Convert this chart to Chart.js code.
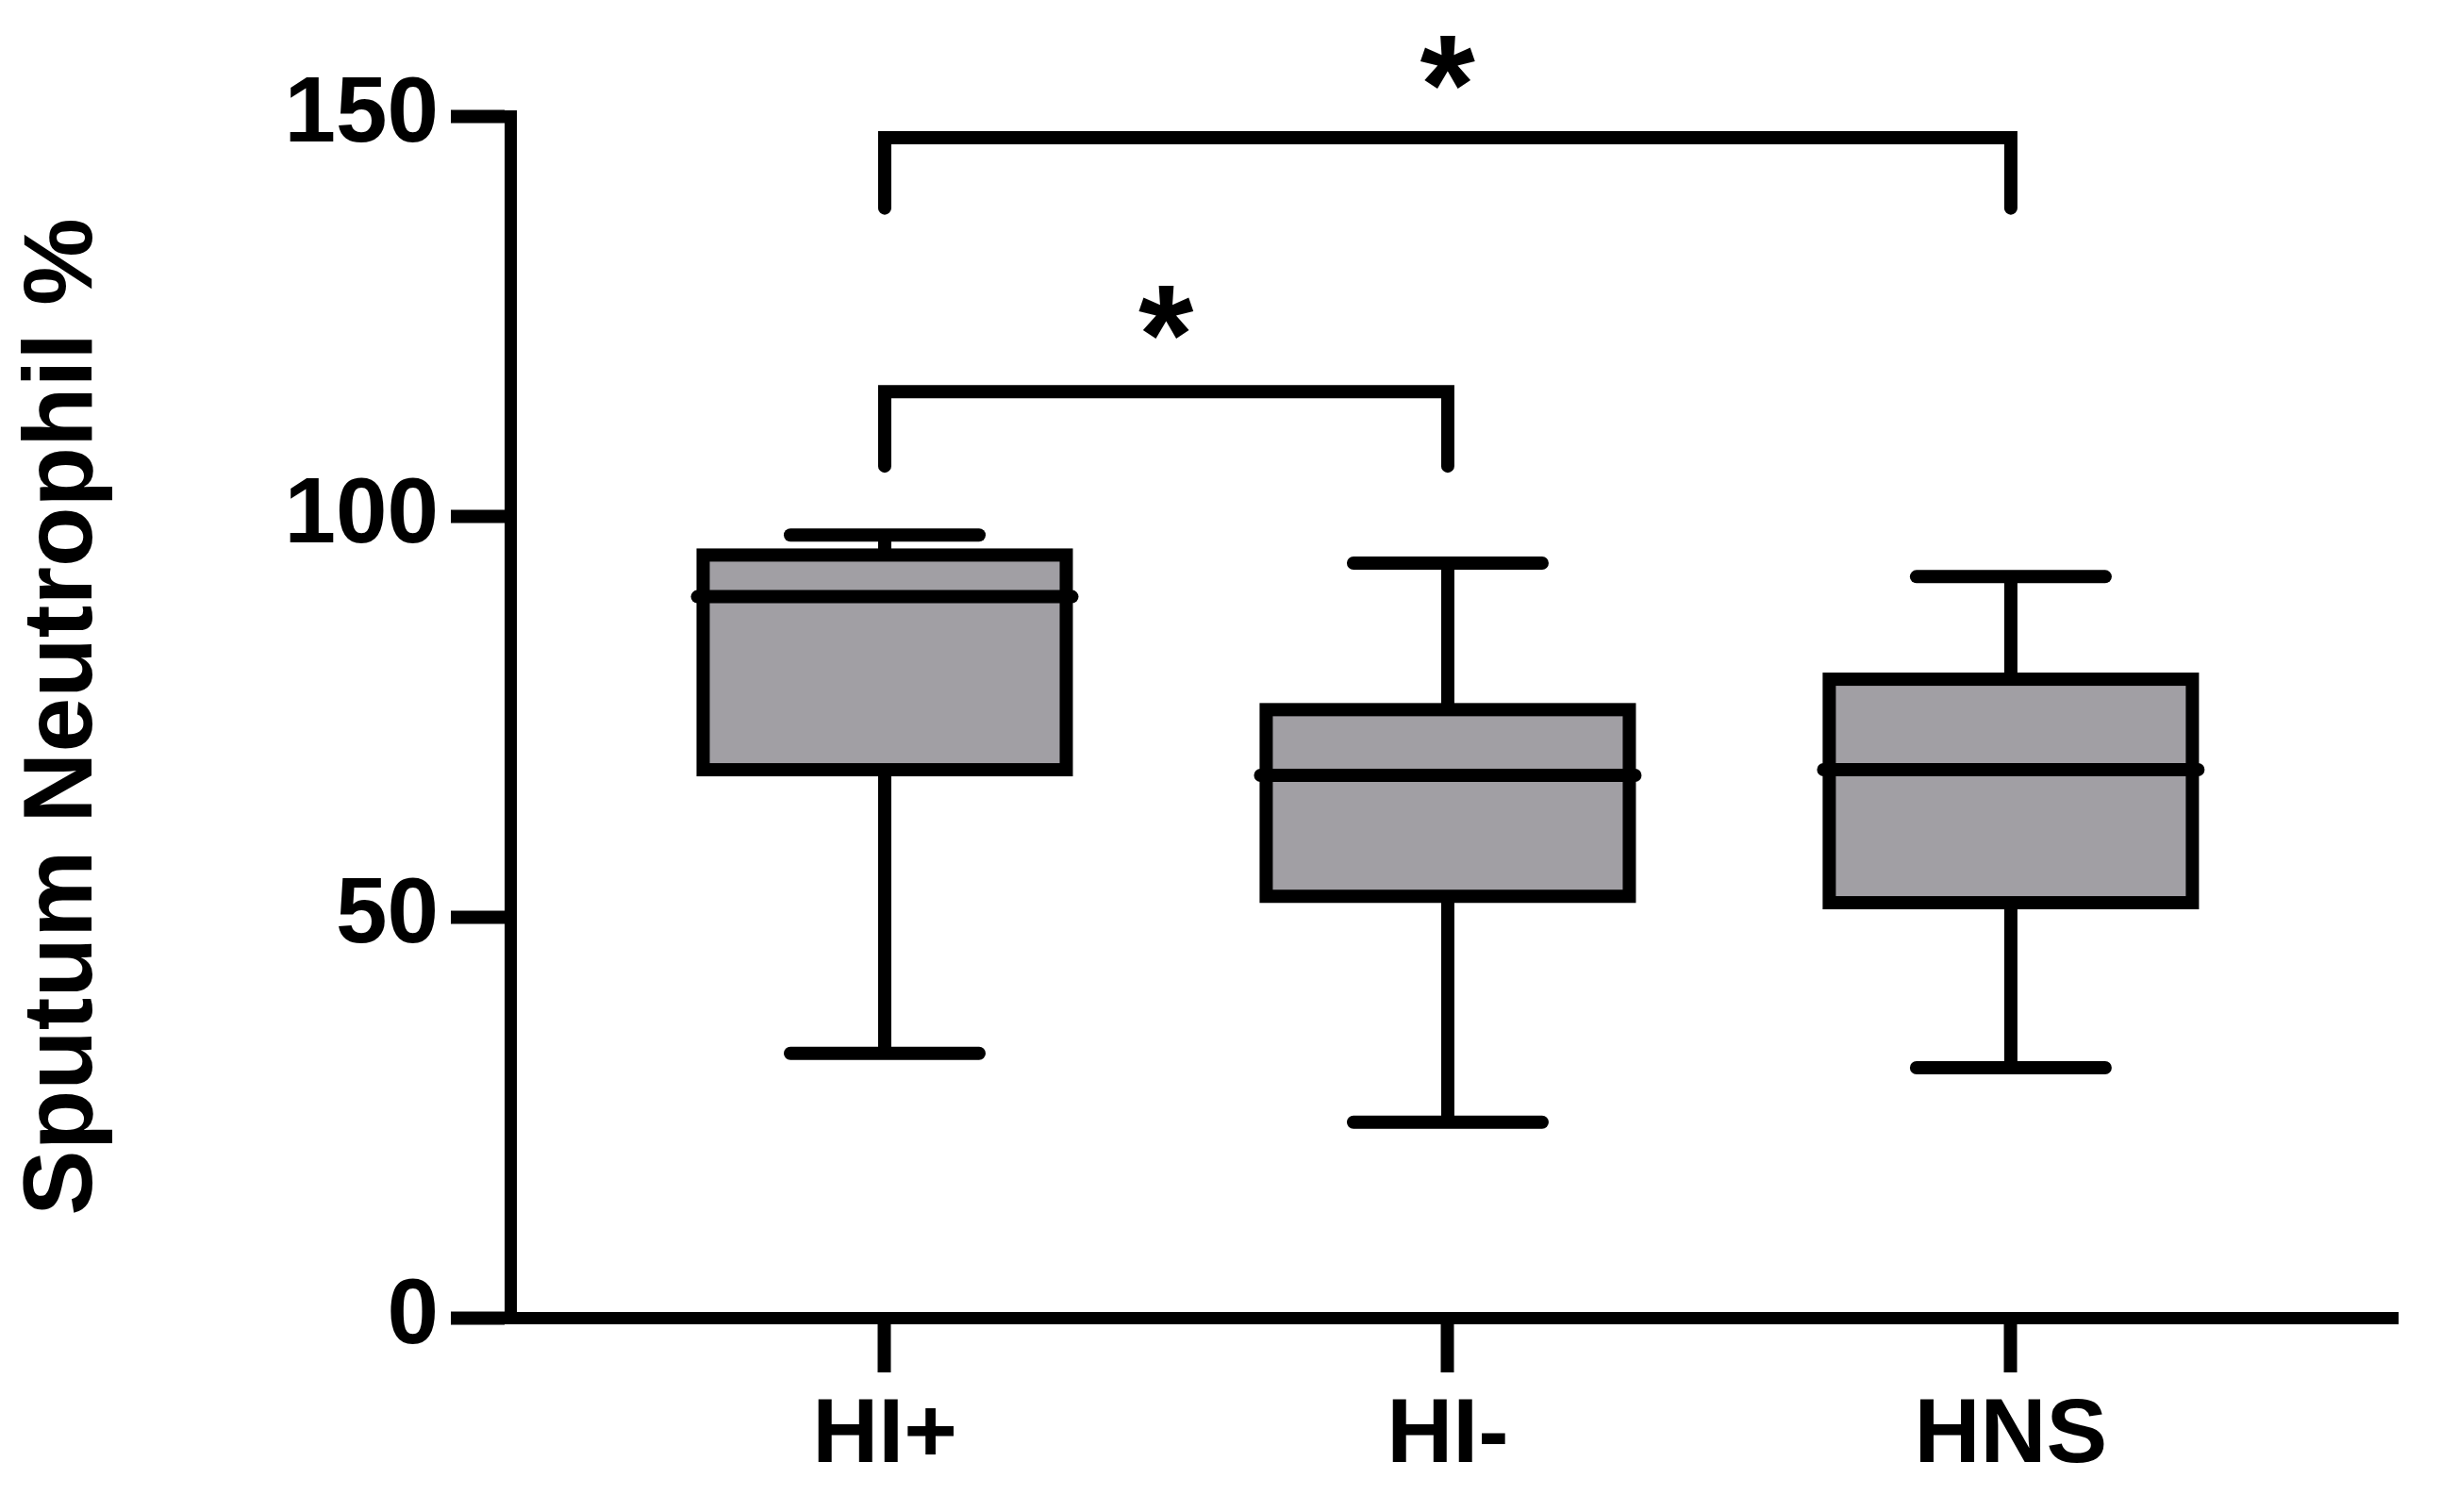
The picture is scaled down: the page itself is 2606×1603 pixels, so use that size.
<!DOCTYPE html>
<html>
<head>
<meta charset="utf-8">
<script src="https://cdn.jsdelivr.net/npm/chart.js@4.4.0/dist/chart.umd.min.js"></script>
<style>
  html, body { margin: 0; padding: 0; background: #fff; }
</style>
</head>
<body>
<canvas id="chart" width="2606" height="1603"></canvas>
<script>
// box plot values
var categories = ['HI+', 'HI-', 'HNS'];
var whiskerLow = [33.0, 24.4, 31.2];
var q1 = [68.4, 52.6, 51.8];
var median = [90.0, 67.7, 68.4];
var q3 = [95.2, 75.9, 79.7];
var whiskerHigh = [97.7, 94.2, 92.5];
var yTicks = [0, 50, 100, 150];

// significance brackets (group index from / to, bar height, leg end, star height)
var sigFrom = [0, 0];
var sigTo = [2, 1];
var sigTop = [147.3, 115.6];
var sigLeg = [138.5, 106.3];
var sigStar = [156.7, 125.4];
var sigLabel = ['*', '*'];

var FONT = '"Liberation Sans", Arial, Helvetica, sans-serif';
Chart.defaults.font.family = FONT;
Chart.defaults.color = '#000';

function line(ctx, x1, y1, x2, y2) {
  ctx.beginPath();
  ctx.moveTo(x1, y1);
  ctx.lineTo(x2, y2);
  ctx.stroke();
}

var boxPlugin = {
  id: 'boxes',
  afterDatasetsDraw: function(chart) {
    var ctx = chart.ctx;
    var xs = chart.scales.x;
    var ys = chart.scales.y;
    var bars = chart.getDatasetMeta(0).data;
    ctx.save();
    ctx.strokeStyle = '#000';
    ctx.fillStyle = '#000';
    ctx.lineWidth = 14;
    for (var i = 0; i < categories.length; i++) {
      var el = bars[i];
      var cx = el.x;
      var half = el.width / 2;
      var yTop = ys.getPixelForValue(q3[i]);
      var yBot = ys.getPixelForValue(q1[i]);
      var yHi = ys.getPixelForValue(whiskerHigh[i]);
      var yLo = ys.getPixelForValue(whiskerLow[i]);
      var yMed = ys.getPixelForValue(median[i]);

      // whisker stems
      ctx.lineCap = 'butt';
      line(ctx, cx, yTop, cx, yHi);
      line(ctx, cx, yBot, cx, yLo);
      // whisker caps
      ctx.lineCap = 'round';
      line(ctx, cx - 100, yHi, cx + 100, yHi);
      line(ctx, cx - 100, yLo, cx + 100, yLo);
      // box outline
      ctx.lineJoin = 'miter';
      ctx.strokeRect(cx - half, yTop, half * 2, yBot - yTop);
      // median
      ctx.lineCap = 'round';
      line(ctx, cx - half - 6, yMed, cx + half + 6, yMed);
    }

    // significance brackets
    ctx.lineCap = 'round';
    ctx.lineJoin = 'miter';
    ctx.font = 'bold 150px ' + FONT;
    ctx.textAlign = 'left';
    ctx.textBaseline = 'alphabetic';
    for (var j = 0; j < sigFrom.length; j++) {
      var x1 = xs.getPixelForValue(sigFrom[j] + 1);
      var x2 = xs.getPixelForValue(sigTo[j] + 1);
      var yt = ys.getPixelForValue(sigTop[j]);
      var yl = ys.getPixelForValue(sigLeg[j]);
      ctx.beginPath();
      ctx.moveTo(x1, yl);
      ctx.lineTo(x1, yt);
      ctx.lineTo(x2, yt);
      ctx.lineTo(x2, yl);
      ctx.stroke();

      var m = ctx.measureText(sigLabel[j]);
      var sx = (x1 + x2) / 2 - (m.actualBoundingBoxRight - m.actualBoundingBoxLeft) / 2;
      var sy = ys.getPixelForValue(sigStar[j]) + (m.actualBoundingBoxAscent - m.actualBoundingBoxDescent) / 2;
      ctx.fillText(sigLabel[j], sx, sy);
    }
    ctx.restore();
  }
};

var ctx = document.getElementById('chart').getContext('2d');
var myChart = new Chart(ctx, {
  type: 'bar',
  data: {
    datasets: [{
      label: 'IQR',
      data: categories.map(function(c, i) {
        return { x: i + 1, y: [q1[i], q3[i]] };
      }),
      backgroundColor: '#a19fa4',
      borderWidth: 0,
      barThickness: 385,
      inflateAmount: 0
    }]
  },
  options: {
    responsive: false,
    animation: false,
    devicePixelRatio: 1,
    layout: {
      padding: { top: 123, right: 64, bottom: 0, left: 0 }
    },
    plugins: {
      legend: { display: false },
      tooltip: { enabled: false }
    },
    scales: {
      x: {
        type: 'linear',
        min: 0.335,
        max: 3.687,
        offset: false,
        afterFit: function(scale) { scale.height = 206; },
        afterBuildTicks: function(scale) {
          scale.ticks = categories.map(function(c, i) { return { value: i + 1 }; });
        },
        ticks: {
          autoSkip: false,
          maxRotation: 0,
          padding: 10,
          color: '#000',
          font: { size: 97, weight: 'bold' },
          callback: function(value, index) { return categories[index]; }
        },
        grid: {
          offset: false,
          drawOnChartArea: false,
          drawTicks: true,
          tickLength: 58,
          tickWidth: 14,
          tickColor: '#000'
        },
        border: { display: true, color: '#000', width: 13 }
      },
      y: {
        type: 'linear',
        min: 0,
        max: 150,
        afterFit: function(scale) { scale.width = 541; },
        afterBuildTicks: function(scale) {
          scale.ticks = yTicks.map(function(v) { return { value: v }; });
        },
        ticks: {
          padding: 13,
          color: '#000',
          font: { size: 98, weight: 'bold' }
        },
        grid: {
          drawOnChartArea: false,
          drawTicks: true,
          tickLength: 63,
          tickWidth: 14,
          tickColor: '#000'
        },
        border: { display: true, color: '#000', width: 13 },
        title: {
          display: true,
          text: 'Sputum Neutrophil %',
          color: '#000',
          font: { size: 104, weight: 'bold' },
          padding: { top: 6, bottom: 0 }
        }
      }
    }
  },
  plugins: [boxPlugin]
});
</script>
</body>
</html>
